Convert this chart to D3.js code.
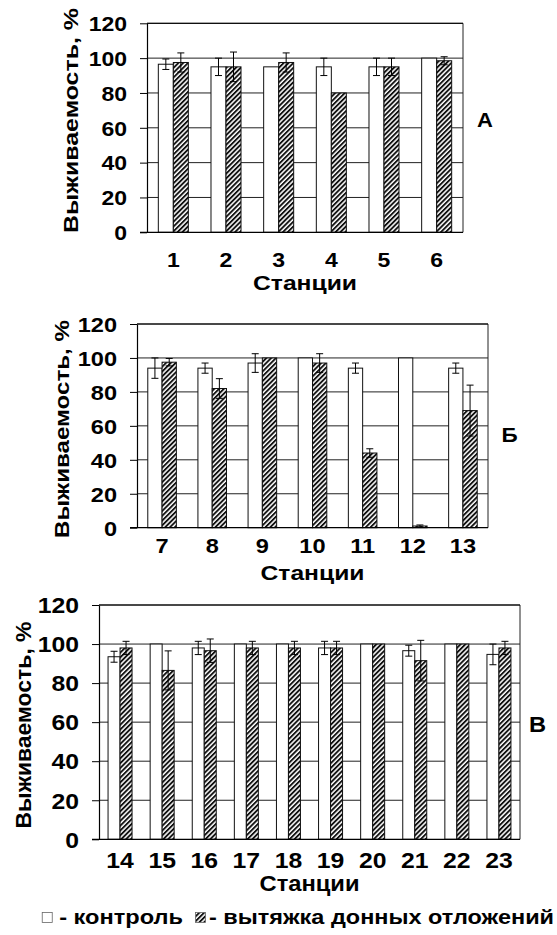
<!DOCTYPE html>
<html><head><meta charset="utf-8">
<script src="https://cdn.jsdelivr.net/npm/d3@7"></script>
<style>
html,body{margin:0;padding:0;background:#fff;}
text{font-family:"Liberation Sans",Arial,sans-serif;font-weight:bold;fill:#000;}
</style></head>
<body>
<svg id="chart" width="557" height="935"></svg>
<script>
// ---- data ----
const yTicks = [0, 20, 40, 60, 80, 100, 120];
const yTitle = "Выживаемость, %";
const xTitle = "Станции";
const legendControl = "- контроль";
const legendExtract = "- вытяжка донных отложений";

const stationsA = ["1", "2", "3", "4", "5", "6"];
const controlA = [96.5, 95, 95, 95, 95, 100];
const controlErrA = [3, 5, 0, 5, 5, 0];
const extractA = [97.5, 95, 97.5, 80, 95, 98.5];
const extractErrA = [5.5, 8.5, 5.5, 0, 5, 2.3];

const stationsB = ["7", "8", "9", "10", "11", "12", "13"];
const controlB = [94, 94, 97, 100, 94, 100, 94];
const controlErrB = [6, 3, 5.5, 0, 3, 0, 3];
const extractB = [97.5, 82, 100, 97, 44, 1, 69];
const extractErrB = [2.2, 5.8, 0, 5.5, 2.5, 0.6, 15];

const stationsC = ["14", "15", "16", "17", "18", "19", "20", "21", "22", "23"];
const controlC = [93.5, 100, 98, 100, 100, 98, 100, 96.6, 100, 94.7];
const controlErrC = [2.8, 0, 3.4, 0, 0, 3.4, 0, 2.8, 0, 5.3];
const extractC = [98, 86.5, 96.6, 98, 98, 98, 100, 91.5, 100, 98];
const extractErrC = [3.4, 10, 6, 3.4, 3.4, 3.4, 0, 10.4, 0, 3.4];

const panelLabels = ["А", "Б", "В"];

// ---- layout ----
const panels = [
  {st: stationsA, c: controlA, ce: controlErrA, e: extractA, ee: extractErrA,
   x0: 147, x1: 463, yT: 23.3, yB: 232.3, fs: 20, xlabY: 266.5, xtY: 290, xtLen: 104,
   ytX: 77.5, ytY: 120.5, ytLen: 225, lab: panelLabels[0], labX: 477, labY: 127},
  {st: stationsB, c: controlB, ce: controlErrB, e: extractB, ee: extractErrB,
   x0: 137, x1: 488, yT: 324, yB: 527.7, fs: 20.5, xlabY: 553, xtY: 580, xtLen: 104,
   ytX: 69, ytY: 429, ytLen: 218, lab: panelLabels[1], labX: 501.5, labY: 441.5},
  {st: stationsC, c: controlC, ce: controlErrC, e: extractC, ee: extractErrC,
   x0: 99, x1: 520, yT: 605, yB: 839.3, fs: 21.5, xlabY: 867.5, xtY: 891, xtLen: 100,
   ytX: 30.5, ytY: 725, ytLen: 207, lab: panelLabels[2], labX: 529, labY: 732}
];

const NUM_STRETCH = 1.15;
function stretch(sel, f) {
  sel.each(function () {
    const w = this.getComputedTextLength();
    d3.select(this).attr("textLength", w * f).attr("lengthAdjust", "spacingAndGlyphs");
  });
}

const svg = d3.select("#chart");
const defs = svg.append("defs");
const pat = defs.append("pattern").attr("id", "hatch")
  .attr("patternUnits", "userSpaceOnUse").attr("width", 3.4).attr("height", 3.4)
  .attr("patternTransform", "rotate(45)");
pat.append("rect").attr("width", 3.4).attr("height", 3.4).attr("fill", "#fff");
pat.append("line").attr("x1", 0.9).attr("y1", -1).attr("x2", 0.9).attr("y2", 5)
  .attr("stroke", "#111").attr("stroke-width", 2);

panels.forEach(p => {
  const g = svg.append("g");
  const y = d3.scaleLinear().domain([0, 120]).range([p.yB, p.yT]);
  const x = d3.scaleBand().domain(p.st).range([p.x0, p.x1]).paddingInner(0.43).paddingOuter(0.215);
  const xs = d3.scaleBand().domain(["c", "e"]).range([0, x.bandwidth()]);

  // gridlines
  g.append("g").selectAll("line").data(yTicks.filter(t => t > 0))
    .join("line").attr("x1", p.x0).attr("x2", p.x1)
    .attr("y1", d => y(d)).attr("y2", d => y(d))
    .attr("stroke", "#222").attr("stroke-width", 1);
  // right frame
  g.append("line").attr("x1", p.x1).attr("x2", p.x1).attr("y1", p.yT).attr("y2", p.yB)
    .attr("stroke", "#222").attr("stroke-width", 1);

  const rows = p.st.map((s, i) => ({s, c: p.c[i], ce: p.ce[i], e: p.e[i], ee: p.ee[i]}));
  const grp = g.append("g").selectAll("g").data(rows).join("g")
    .attr("transform", d => `translate(${x(d.s)},0)`);
  grp.append("rect").attr("x", xs("c")).attr("width", xs.bandwidth())
    .attr("y", d => y(d.c)).attr("height", d => y(0) - y(d.c))
    .attr("fill", "#fff").attr("stroke", "#111").attr("stroke-width", 1);
  grp.append("rect").attr("x", xs("e")).attr("width", xs.bandwidth())
    .attr("y", d => y(d.e)).attr("height", d => y(0) - y(d.e))
    .attr("fill", "url(#hatch)").attr("stroke", "#111").attr("stroke-width", 1);

  // error bars
  const err = [];
  rows.forEach(d => {
    if (d.ce > 0) err.push({cx: x(d.s) + xs("c") + xs.bandwidth() / 2, v: d.c, e: d.ce});
    if (d.ee > 0) err.push({cx: x(d.s) + xs("e") + xs.bandwidth() / 2, v: d.e, e: d.ee});
  });
  const eg = g.append("g").attr("stroke", "#000").attr("stroke-width", 1).attr("fill", "none");
  err.forEach(d => {
    eg.append("line").attr("x1", d.cx).attr("x2", d.cx).attr("y1", y(d.v + d.e)).attr("y2", y(d.v - d.e));
    eg.append("line").attr("x1", d.cx - 3.5).attr("x2", d.cx + 3.5).attr("y1", y(d.v + d.e)).attr("y2", y(d.v + d.e));
    eg.append("line").attr("x1", d.cx - 3.5).attr("x2", d.cx + 3.5).attr("y1", y(d.v - d.e)).attr("y2", y(d.v - d.e));
  });

  // y axis
  const ya = g.append("g").attr("transform", `translate(${p.x0},0)`)
    .call(d3.axisLeft(y).tickValues(yTicks).tickSize(7).tickSizeOuter(0).tickPadding(13));
  ya.select(".domain").attr("stroke", "#000").attr("stroke-width", 1.2);
  ya.selectAll(".tick line").attr("stroke", "#000").attr("stroke-width", 1);
  ya.selectAll("text").attr("font-size", p.fs).attr("font-family", null).attr("dy", "0.36em");
  stretch(ya.selectAll("text"), NUM_STRETCH);

  // x axis line (extends left to tick length)
  g.append("line").attr("x1", p.x0 - 7).attr("x2", p.x1).attr("y1", p.yB).attr("y2", p.yB)
    .attr("stroke", "#000").attr("stroke-width", 1.2);
  // top frame
  g.append("line").attr("x1", p.x0).attr("x2", p.x1).attr("y1", p.yT).attr("y2", p.yT)
    .attr("stroke", "#000").attr("stroke-width", 1);

  // x labels
  const xl = g.append("g").selectAll("text").data(p.st).join("text")
    .attr("x", d => x(d) + x.bandwidth() / 2).attr("y", p.xlabY)
    .attr("text-anchor", "middle").attr("font-size", p.fs).text(d => d);
  stretch(xl, NUM_STRETCH);
  g.append("text").attr("x", (p.x0 + p.x1) / 2).attr("y", p.xtY)
    .attr("text-anchor", "middle").attr("font-size", p.fs)
    .attr("textLength", p.xtLen).attr("lengthAdjust", "spacingAndGlyphs").text(xTitle);
  g.append("text").attr("transform", `translate(${p.ytX},${p.ytY}) rotate(-90)`)
    .attr("text-anchor", "middle").attr("font-size", p.fs)
    .attr("textLength", p.ytLen).attr("lengthAdjust", "spacingAndGlyphs").text(yTitle);
  const pl = g.append("text").attr("x", p.labX).attr("y", p.labY).attr("font-size", p.fs).text(p.lab);
  stretch(pl, 1.1);
});

// legend
const lg = svg.append("g");
const lfs = 20.5;
lg.append("text").attr("x", 209).attr("y", 924).attr("font-size", lfs)
  .attr("textLength", 345).attr("lengthAdjust", "spacingAndGlyphs").text(legendExtract);
lg.append("rect").attr("x", 195.5).attr("y", 912.5).attr("width", 10).attr("height", 10)
  .attr("fill", "url(#hatch)").attr("stroke", "#666").attr("stroke-width", 0.8);
const t1 = lg.append("text").attr("x", 183).attr("y", 924).attr("text-anchor", "end").attr("font-size", lfs).text(legendControl);
const w1 = t1.node().getComputedTextLength() * 1.15;
t1.attr("textLength", w1).attr("lengthAdjust", "spacingAndGlyphs");
lg.append("rect").attr("x", 183 - w1 - 17).attr("y", 912.5).attr("width", 10).attr("height", 10)
  .attr("fill", "#fff").attr("stroke", "#666").attr("stroke-width", 0.8);
</script>
</body></html>
